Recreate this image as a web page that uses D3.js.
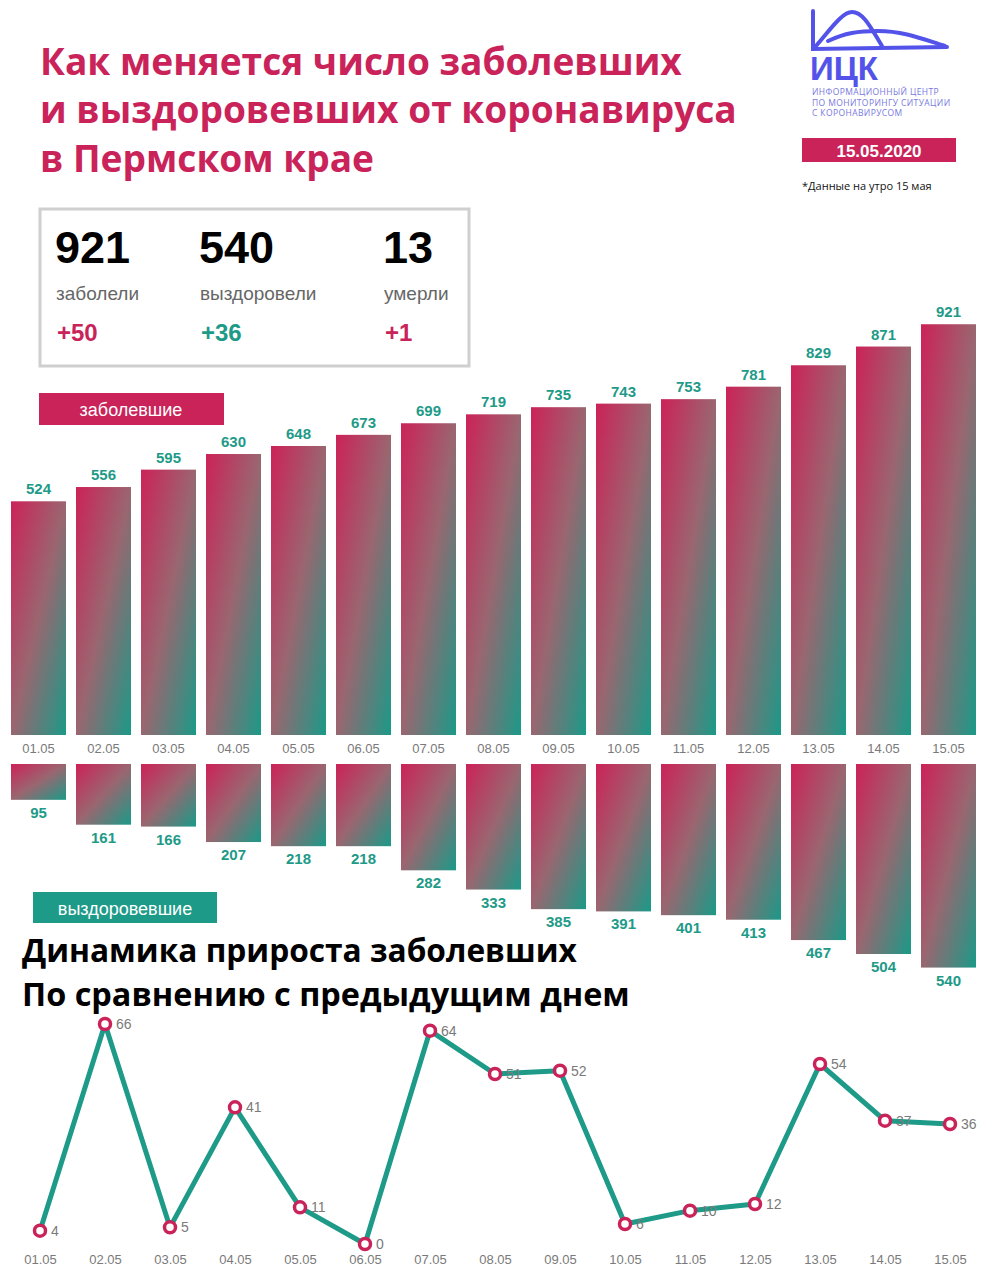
<!DOCTYPE html>
<html><head><meta charset="utf-8">
<script src="https://cdn.jsdelivr.net/npm/d3@7"></script>
<style>html,body{margin:0;padding:0;background:#fff;}svg{display:block;}</style>
</head><body>
<script>
const dates = ["01.05","02.05","03.05","04.05","05.05","06.05","07.05","08.05","09.05","10.05","11.05","12.05","13.05","14.05","15.05"];
const infected = [524,556,595,630,648,673,699,719,735,743,753,781,829,871,921];
const recovered = [95,161,166,207,218,218,282,333,385,391,401,413,467,504,540];
const growth = [4,66,5,41,11,0,64,51,52,6,10,12,54,37,36];
const titleLines = ["Как меняется число заболевших","и выздоровевших от коронавируса","в Пермском крае"];
const subtitleLines = ["Динамика прироста заболевших","По сравнению с предыдущим днем"];
const stats = [{v:"921",label:"заболели",d:"+50",c:"crimson"},{v:"540",label:"выздоровели",d:"+36",c:"teal"},{v:"13",label:"умерли",d:"+1",c:"crimson"}];
const logoLines = ["ИНФОРМАЦИОННЫЙ ЦЕНТР","ПО МОНИТОРИНГУ СИТУАЦИИ","С КОРОНАВИРУСОМ"];

const W=992,H=1280;
const CRIMSON="#c9235a", TEAL="#1e9a88", GRAY="#7a7a7a", BLUE="#5353ea";
const svg=d3.select("body").append("svg").attr("width",W).attr("height",H);

const defs=svg.append("defs");
const grad=defs.append("linearGradient").attr("id","g").attr("x1",0).attr("y1",0).attr("x2",1).attr("y2",1);
grad.append("stop").attr("offset","0%").attr("stop-color","#cc2258");
grad.append("stop").attr("offset","50%").attr("stop-color","#9a6670");
grad.append("stop").attr("offset","100%").attr("stop-color","#1a9a88");

function fit(sel,target){const w=sel.node().getComputedTextLength();const fs=parseFloat(sel.attr("font-size"));sel.attr("font-size",fs*target/w);}

// Title
const tBase=[75,123,172];
const tls=titleLines.map((t,i)=>svg.append("text").attr("x",40).attr("y",tBase[i]).attr("font-family","Open Sans, sans-serif").attr("font-weight",700).attr("font-size",36).attr("fill",CRIMSON).text(t));
fit(tls[1],697); tls.forEach(s=>s.attr("font-size",tls[1].attr("font-size")));

// Logo
const lg=svg.append("g").attr("fill","none").attr("stroke",BLUE).attr("stroke-width",4).attr("stroke-linecap","round");
lg.append("path").attr("d","M813,11 L813,49 L947,47");
lg.append("path").attr("d","M815,47 C830,30 842,12 852,12 C864,12 872,30 882,46");
lg.append("path").attr("d","M828,41 C845,33 858,31 878,31 C905,31 925,40 945,46");
const ick=svg.append("text").attr("x",810).attr("y",80).attr("font-family","Liberation Sans, Arial, sans-serif").attr("font-weight",700).attr("font-size",30).attr("fill",BLUE).text("ИЦК");
fit(ick,68);
logoLines.forEach((t,i)=>svg.append("text").attr("x",812).attr("y",95+i*10.5).attr("font-family","Open Sans, sans-serif").attr("font-size",8.5).attr("letter-spacing",0.4).attr("fill","#7878de").text(t));
svg.append("rect").attr("x",802).attr("y",138).attr("width",154).attr("height",24).attr("fill",CRIMSON);
svg.append("text").attr("x",879).attr("y",157).attr("text-anchor","middle").attr("font-family","Liberation Sans, Arial, sans-serif").attr("font-weight",700).attr("font-size",17).attr("fill","#fff").text("15.05.2020");
svg.append("text").attr("x",802).attr("y",190).attr("font-family","Open Sans, sans-serif").attr("font-size",11).attr("fill","#111").text("*Данные на утро 15 мая");

// Stats box
svg.append("rect").attr("x",40).attr("y",209).attr("width",429).attr("height",157).attr("fill","#fff").attr("stroke","#cfcfcf").attr("stroke-width",3);
const sx=[55,199,383];
stats.forEach((s,i)=>{
  svg.append("text").attr("x",sx[i]).attr("y",263).attr("font-family","Liberation Sans, Arial, sans-serif").attr("font-weight",700).attr("font-size",45).attr("fill","#000").text(s.v);
  svg.append("text").attr("x",sx[i]+1).attr("y",300).attr("font-family","Liberation Sans, Arial, sans-serif").attr("font-size",19).attr("fill","#666").text(s.label);
  svg.append("text").attr("x",sx[i]+2).attr("y",341).attr("font-family","Liberation Sans, Arial, sans-serif").attr("font-weight",700).attr("font-size",24).attr("fill",s.c==="teal"?TEAL:CRIMSON).text(s.d);
});

// Legend boxes
svg.append("rect").attr("x",39).attr("y",393).attr("width",185).attr("height",32).attr("fill",CRIMSON);
svg.append("text").attr("x",131).attr("y",416).attr("text-anchor","middle").attr("font-family","Liberation Sans, Arial, sans-serif").attr("font-size",18).attr("fill","#fff").text("заболевшие");
svg.append("rect").attr("x",33).attr("y",892).attr("width",184).attr("height",31).attr("fill",TEAL);
svg.append("text").attr("x",125).attr("y",915).attr("text-anchor","middle").attr("font-family","Liberation Sans, Arial, sans-serif").attr("font-size",18).attr("fill","#fff").text("выздоровевшие");

// Bars
const x=d3.scaleBand().domain(dates).range([6,981]).paddingInner(10/65).paddingOuter(5/65);
const yTop=d3.scaleLinear().domain([0,1000]).range([735,289]);
const yBot=d3.scaleLinear().domain([0,1000]).range([764,1141]);

svg.append("g").selectAll("rect").data(dates).join("rect")
  .attr("x",d=>x(d)).attr("width",x.bandwidth())
  .attr("y",(d,i)=>yTop(infected[i])).attr("height",(d,i)=>yTop(0)-yTop(infected[i])).attr("fill","url(#g)");
svg.append("g").selectAll("text").data(dates).join("text")
  .attr("x",d=>x(d)+x.bandwidth()/2).attr("y",(d,i)=>yTop(infected[i])-7)
  .attr("text-anchor","middle").attr("font-family","Liberation Sans, Arial, sans-serif").attr("font-weight",700).attr("font-size",15).attr("fill",TEAL)
  .text((d,i)=>infected[i]);

const xAxisTop=svg.append("g").attr("transform","translate(0,735)").call(d3.axisBottom(x).tickSize(0).tickPadding(9));
xAxisTop.select(".domain").remove();
xAxisTop.selectAll("text").attr("font-family","Liberation Sans, Arial, sans-serif").attr("font-size",13).attr("fill",GRAY);

svg.append("g").selectAll("rect").data(dates).join("rect")
  .attr("x",d=>x(d)).attr("width",x.bandwidth())
  .attr("y",yBot(0)).attr("height",(d,i)=>yBot(recovered[i])-yBot(0)).attr("fill","url(#g)");
svg.append("g").selectAll("text").data(dates).join("text")
  .attr("x",d=>x(d)+x.bandwidth()/2).attr("y",(d,i)=>yBot(recovered[i])+18)
  .attr("text-anchor","middle").attr("font-family","Liberation Sans, Arial, sans-serif").attr("font-weight",700).attr("font-size",15).attr("fill",TEAL)
  .text((d,i)=>recovered[i]);

// Subtitle
const sBase=[962,1006];
const sW=[555,608];
subtitleLines.forEach((t,i)=>{
  const s=svg.append("text").attr("x",22).attr("y",sBase[i]).attr("font-family","Open Sans, sans-serif").attr("font-weight",700).attr("font-size",32).attr("fill","#000").text(t);
  fit(s,sW[i]);
});

// Line chart
const xl=d3.scalePoint().domain(dates).range([40,950]);
const yl=d3.scaleLinear().domain([0,66]).range([1244,1024]);
svg.append("path").datum(growth).attr("fill","none").attr("stroke",TEAL).attr("stroke-width",5).attr("stroke-linejoin","round")
  .attr("d",d3.line().x((d,i)=>xl(dates[i])).y(d=>yl(d)));
svg.append("g").selectAll("circle").data(growth).join("circle")
  .attr("cx",(d,i)=>xl(dates[i])).attr("cy",d=>yl(d)).attr("r",5.5).attr("fill","#fff").attr("stroke",CRIMSON).attr("stroke-width",3.5);
svg.append("g").selectAll("text").data(growth).join("text")
  .attr("x",(d,i)=>xl(dates[i])+11).attr("y",d=>yl(d)+5)
  .attr("font-family","Liberation Sans, Arial, sans-serif").attr("font-size",14).attr("fill",GRAY).text(d=>d);
const xAxisL=svg.append("g").attr("transform","translate(0,1250)").call(d3.axisBottom(xl).tickSize(0).tickPadding(5));
xAxisL.select(".domain").remove();
xAxisL.selectAll("text").attr("font-family","Liberation Sans, Arial, sans-serif").attr("font-size",13).attr("fill",GRAY);
</script>
</body></html>
